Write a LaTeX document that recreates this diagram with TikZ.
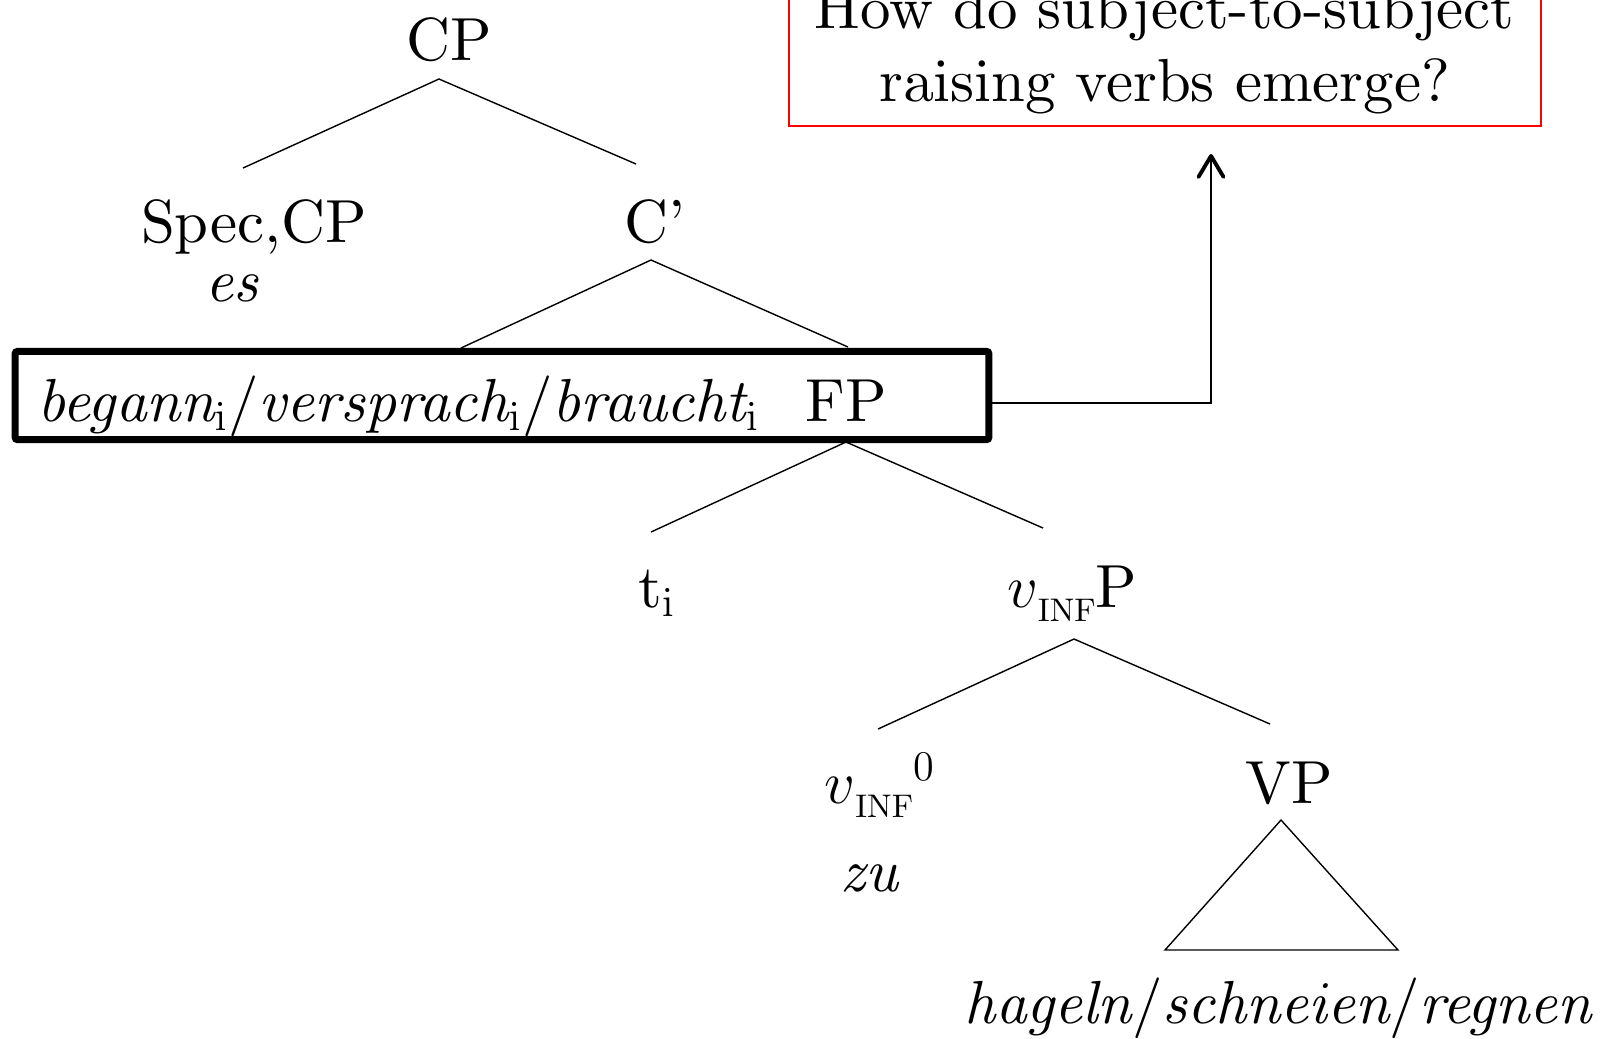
\documentclass[tikz,border=0pt]{standalone}
\usetikzlibrary{arrows.meta}
% 10pt designs enlarged for the running text
\font\bigrm=cmr10 at 17.3pt
\font\bigit=cmti10 at 17.3pt
\font\subrm=cmr10 at 9.3pt
% little v with the INF index set below the line
\newcommand\vinf{$v$\lower4.2pt\hbox{\subrm INF}}
\begin{document}
\begin{tikzpicture}[x=0.01cm,y=-0.01cm,
  lbl/.style={anchor=base,inner sep=0pt,font=\fontsize{17.3}{20.8}\selectfont\bigrm},
  branch/.style={line width=0.4pt,line join=miter},
  thickbox/.style={draw,line width=0.07cm,rounded corners=0.6pt,inner sep=0pt},
  questionbox/.style={draw=red,line width=0.5pt,align=center,inner xsep=0pt,inner ysep=0.13cm,
    font=\fontsize{17.3}{20.8}\selectfont\bigrm},
  arrowline/.style={line width=0.4pt,-{Straight Barb[length=0.21cm,width=0.25cm,line width=1.1pt,round]}}]
\useasboundingbox (0,0) rectangle (1601,1038);
\clip (0,0) rectangle (1601,1038);

% category labels
\node[lbl] (cp) at (449,60) {CP};
\node[lbl] (spec) at (254,242) {Spec,CP};
\node[lbl] (es) at (232,301) {{\bigit es}};
\node[lbl] (cbar) at (655,242) {C'};
\node[lbl,anchor=base west] (verbs) at (37,421)
  {{\bigit begann}$_{\mathrm{i}}$/{\bigit versprach}$_{\mathrm{i}}$/{\bigit braucht}$_{\mathrm{i}}$};
\node[lbl] (fp) at (846,421) {FP};
\node[lbl] (trace) at (657,607) {t$_{\mathrm{i}}$};
\node[lbl] (vp) at (1072,607) {\vinf P};
\node[lbl] (vhead) at (880,803) {\vinf$^{0}$};
\node[lbl] (zu) at (869,891) {{\bigit zu}};
\node[lbl] (VP) at (1289,803) {VP};
\node[lbl] (lex) at (1278,1023) {{\bigit hageln}/{\bigit schneien}/{\bigit regnen}};

% highlighted head position
\node[thickbox,minimum width=9.73cm,minimum height=0.88cm] (fpbox) at (502,395.5) {};

% research question
\node[questionbox,minimum width=7.52cm,anchor=south] (question) at (1165,127)
  {\bigrm How do subject-to-subject\\\bigrm raising verbs emerge?};

% branch points
\coordinate (cpA) at (439,79);  \coordinate (cpL) at (243,168); \coordinate (cpR) at (636,164);
\coordinate (cbA) at (651,260); \coordinate (cbL) at (461,348); \coordinate (cbR) at (848,347);
\coordinate (fpA) at (846,442); \coordinate (fpL) at (651,532); \coordinate (fpR) at (1043,528);
\coordinate (vpA) at (1074,639); \coordinate (vpL) at (878,729); \coordinate (vpR) at (1270,724);
\coordinate (triA) at (1281,820); \coordinate (triL) at (1165,950); \coordinate (triR) at (1398,950);
\coordinate (qin) at (1211,154);

\draw[branch] (cpL) -- (cpA) -- (cpR);
\draw[branch] (cbL) -- (cbA) -- (cbR);
\draw[branch] (fpL) -- (fpA) -- (fpR);
\draw[branch] (vpL) -- (vpA) -- (vpR);
\draw[branch] (triA) -- (triL) -- (triR) -- cycle;

% link from the box to the question
\draw[arrowline] (fpbox.east |- 0,403) -| (qin);
\end{tikzpicture}
\end{document}
